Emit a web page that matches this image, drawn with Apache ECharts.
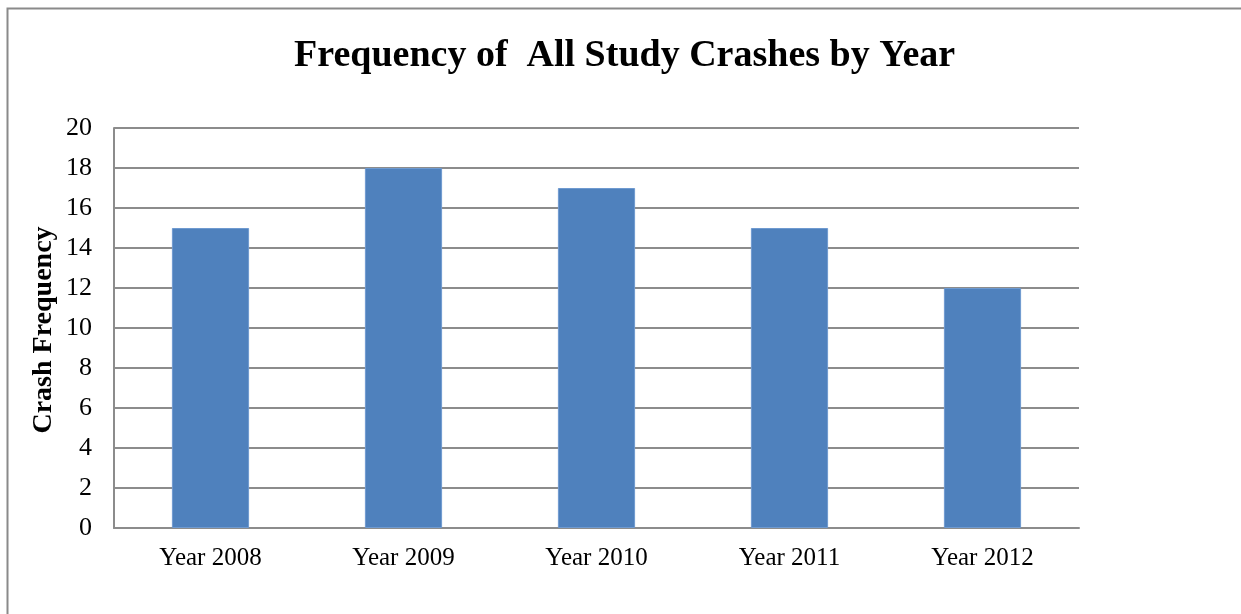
<!DOCTYPE html>
<html>
<head>
<meta charset="utf-8">
<script src="https://cdn.jsdelivr.net/npm/echarts@6/dist/echarts.min.js"></script>
<style>
  html, body { margin: 0; padding: 0; background: #ffffff; }
  #chart { width: 1241px; height: 614px; }
</style>
</head>
<body>
<div id="chart"></div>
<script>
// Crash counts per study year
const categories = ['Year 2008', 'Year 2009', 'Year 2010', 'Year 2011', 'Year 2012'];
const crashCounts = [15, 18, 17, 15, 12];
const titleText = 'Frequency of  All Study Crashes by Year';
const yAxisName = 'Crash Frequency';

const serif = '"Liberation Serif", "DejaVu Serif", serif';
const chart = echarts.init(document.getElementById('chart'), null, { renderer: 'canvas' });

chart.setOption({
  backgroundColor: '#ffffff',
  animation: false,
  title: {
    text: titleText,
    left: 289,
    top: 32,
    textStyle: { fontFamily: serif, fontWeight: 'bold', fontSize: 38, color: '#000000' }
  },
  graphic: [
    {
      // frame around the chart area
      type: 'polyline',
      shape: { points: [[7.5, 614], [7.5, 8.5], [1241, 8.5]] },
      style: { stroke: '#8a8a8a', lineWidth: 2, fill: null },
      silent: true
    },
    {
      // vertical axis title
      type: 'text',
      x: 44,
      y: 330,
      rotation: Math.PI / 2,
      style: {
        text: yAxisName,
        fontFamily: serif,
        fontWeight: 'bold',
        fontSize: 28,
        fill: '#000000',
        align: 'center',
        verticalAlign: 'middle'
      },
      silent: true
    }
  ],
  grid: { left: 114, right: 162, top: 128, bottom: 86, containLabel: false },
  xAxis: {
    type: 'category',
    data: categories,
    axisLine: { show: true, lineStyle: { color: '#8c8c8c', width: 2 } },
    axisTick: { show: false },
    axisLabel: { fontFamily: serif, fontSize: 25, color: '#000000', margin: 18 }
  },
  yAxis: {
    type: 'value',
    min: 0,
    max: 20,
    interval: 2,
    axisLine: { show: true, lineStyle: { color: '#8c8c8c', width: 2 } },
    axisTick: { show: false },
    axisLabel: { fontFamily: serif, fontSize: 26, color: '#000000', margin: 22 },
    splitLine: { show: true, lineStyle: { color: '#8c8c8c', width: 2 } }
  },
  series: [{
    type: 'bar',
    data: crashCounts,
    barWidth: '40%',
    itemStyle: { color: '#4f81bd', borderColor: '#6f9ad0', borderWidth: 1 }
  }]
});
</script>
</body>
</html>
